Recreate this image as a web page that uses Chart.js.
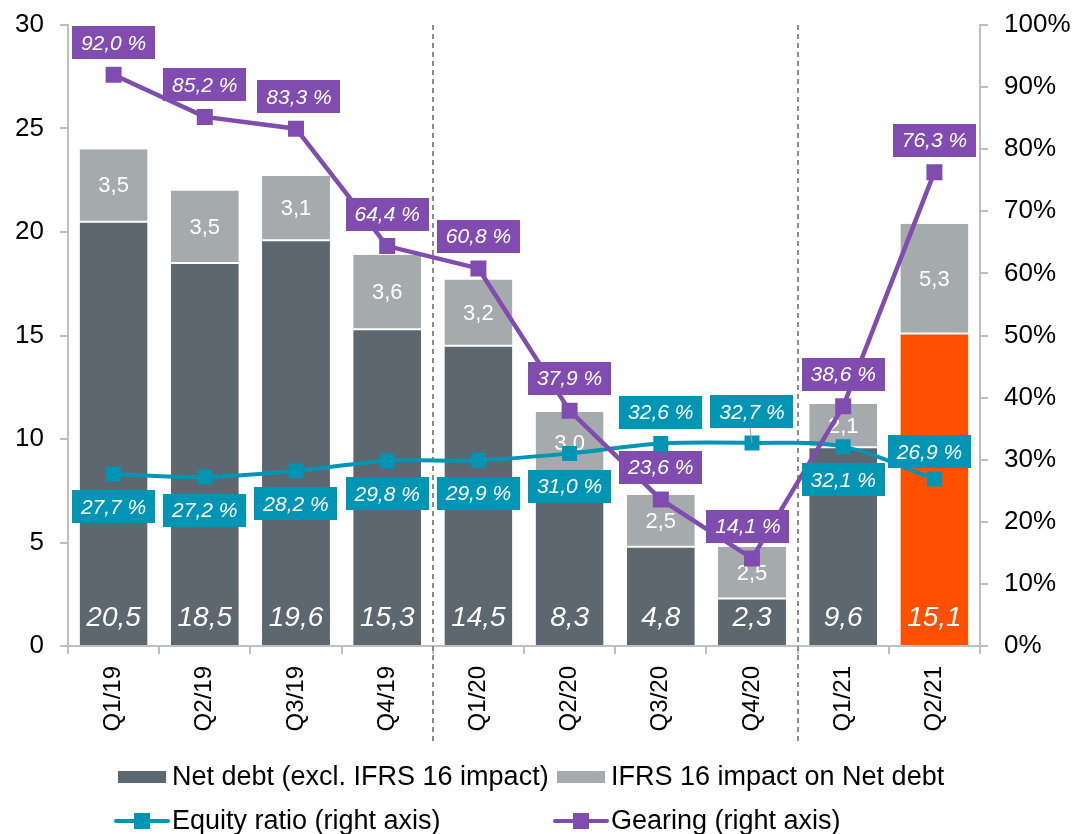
<!DOCTYPE html>
<html>
<head>
<meta charset="utf-8">
<script src="https://cdn.jsdelivr.net/npm/chart.js@4.4.1/dist/chart.umd.min.js"></script>
<style>
  html, body { margin: 0; padding: 0; background: #ffffff; }
  #wrap { width: 1079px; height: 834px; position: relative; }
</style>
</head>
<body>
<div id="wrap"><canvas id="c"></canvas></div>
<script>
// ---- Data ----
const categories = ['Q1/19', 'Q2/19', 'Q3/19', 'Q4/19', 'Q1/20', 'Q2/20', 'Q3/20', 'Q4/20', 'Q1/21', 'Q2/21'];
const netDebt = [20.5, 18.5, 19.6, 15.3, 14.5, 8.3, 4.8, 2.3, 9.6, 15.1];
const ifrs16Impact = [3.5, 3.5, 3.1, 3.6, 3.2, 3.0, 2.5, 2.5, 2.1, 5.3];
const equityRatio = [27.7, 27.2, 28.2, 29.8, 29.9, 31.0, 32.6, 32.7, 32.1, 26.9];
const gearing = [92.0, 85.2, 83.3, 64.4, 60.8, 37.9, 23.6, 14.1, 38.6, 76.3];
const seriesNames = ['Net debt (excl. IFRS 16 impact)', 'IFRS 16 impact on Net debt', 'Equity ratio (right axis)', 'Gearing (right axis)'];
const yearSeparatorsAfter = [3, 7];
const equityLabelSide = ['below', 'below', 'below', 'below', 'below', 'below', 'above', 'above', 'below', 'above'];

// ---- Styles ----
const FONT = '"Liberation Sans", Arial, sans-serif';
const C_DARK = '#5C6770';
const C_GREY = '#A5AAAD';
const C_ORANGE = '#FF5000';
const C_TEAL = '#0095B4';
const C_PURPLE = '#814CAF';
const C_AXIS = '#BFBFBF';

const fmt = v => v.toFixed(1).replace('.', ',');

const labelPlugin = {
  id: 'customLabels',
  beforeDatasetsDraw(chart) {
    const ctx = chart.ctx;
    const x = chart.scales.x;
    const ca = chart.chartArea;
    ctx.save();
    ctx.strokeStyle = '#8C8C8C';
    ctx.lineWidth = 2;
    ctx.setLineDash([5, 4]);
    yearSeparatorsAfter.forEach(i => {
      const px = Math.round((x.getPixelForValue(i) + x.getPixelForValue(i + 1)) / 2);
      ctx.beginPath();
      ctx.moveTo(px, ca.top);
      ctx.lineTo(px, ca.bottom + 96);
      ctx.stroke();
    });
    ctx.restore();
  },
  beforeDatasetDraw(chart, args) {
    if (args.index !== 2) return;
    // bar value labels (drawn after bars, before lines)
    const ctx = chart.ctx;
    const m0 = chart.getDatasetMeta(0);
    const m1 = chart.getDatasetMeta(1);
    ctx.save();
    ctx.fillStyle = '#ffffff';
    ctx.textAlign = 'center';
    ctx.textBaseline = 'middle';
    m0.data.forEach((bar, i) => {
      ctx.font = 'italic 28px ' + FONT;
      ctx.fillText(fmt(netDebt[i]), bar.x, bar.base - 27);
    });
    m1.data.forEach((bar, i) => {
      ctx.font = '22px ' + FONT;
      ctx.fillText(fmt(ifrs16Impact[i]), bar.x, (bar.y + bar.base) / 2 + 1);
    });
    ctx.restore();
  },
  afterDatasetsDraw(chart) {
    const ctx = chart.ctx;
    const drawBox = (text, cx, cy, color) => {
      ctx.font = 'italic 21px ' + FONT;
      const w = ctx.measureText(text).width + 18;
      const h = 33;
      ctx.fillStyle = color;
      ctx.fillRect(Math.round(cx - w / 2), Math.round(cy - h / 2), Math.round(w), h);
      ctx.fillStyle = '#ffffff';
      ctx.textAlign = 'center';
      ctx.textBaseline = 'middle';
      ctx.fillText(text, cx, cy + 1);
    };
    ctx.save();
    const mE = chart.getDatasetMeta(2);
    mE.data.forEach((pt, i) => {
      const side = equityLabelSide[i];
      let dx = 0, dy = side === 'above' ? -31 : 33;
      if (i === equityRatio.length - 1) { dx = -5; dy = -27; }
      if (i === 7) {
        ctx.strokeStyle = '#A0A0A0';
        ctx.lineWidth = 1;
        ctx.beginPath();
        ctx.moveTo(pt.x - 2, pt.y + dy + 16);
        ctx.lineTo(pt.x, pt.y);
        ctx.stroke();
      }
      drawBox(fmt(equityRatio[i]) + ' %', pt.x + dx, pt.y + dy, C_TEAL);
    });
    const mG = chart.getDatasetMeta(3);
    mG.data.forEach((pt, i) => {
      let dx = 0;
      if (i === 7) dx = -4;
      if (i === 2) dx = 3;
      drawBox(fmt(gearing[i]) + ' %', pt.x + dx, pt.y - 32, C_PURPLE);
    });
    ctx.restore();
  },
  afterDraw(chart) {
    // legend in a two-column grid
    const ctx = chart.ctx;
    ctx.save();
    ctx.font = '27px ' + FONT;
    ctx.fillStyle = '#000000';
    ctx.textBaseline = 'middle';
    ctx.textAlign = 'left';
    const cols = [116, 555];
    const rows = [777, 821];
    // row 1: bar swatches
    [C_DARK, C_GREY].forEach((c, k) => {
      ctx.fillStyle = c;
      ctx.fillRect(cols[k] + 2, rows[0] - 6, 48, 12);
      ctx.fillStyle = '#000000';
      ctx.fillText(seriesNames[k], cols[k] + 56, rows[0] + 1);
    });
    // row 2: line swatches
    [C_TEAL, C_PURPLE].forEach((c, k) => {
      ctx.strokeStyle = c;
      ctx.lineWidth = 4;
      ctx.lineCap = 'round';
      ctx.beginPath();
      ctx.moveTo(cols[k], rows[1]);
      ctx.lineTo(cols[k] + 52, rows[1]);
      ctx.stroke();
      ctx.fillStyle = c;
      ctx.fillRect(cols[k] + 18, rows[1] - 8, 16, 16);
      ctx.fillStyle = '#000000';
      ctx.fillText(seriesNames[2 + k], cols[k] + 56, rows[1] + 1);
    });
    ctx.restore();
  }
};

new Chart(document.getElementById('c'), {
  type: 'bar',
  data: {
    labels: categories,
    datasets: [
      {
        label: seriesNames[0], type: 'bar', data: netDebt, yAxisID: 'y', stack: 'debt', order: 2,
        backgroundColor: netDebt.map((v, i) => i === netDebt.length - 1 ? C_ORANGE : C_DARK),
        borderColor: '#ffffff', borderWidth: { top: 1, left: 0, right: 0, bottom: 0 }, borderSkipped: false,
        categoryPercentage: 1, barPercentage: 0.745
      },
      {
        label: seriesNames[1], type: 'bar', data: ifrs16Impact, yAxisID: 'y', stack: 'debt', order: 3,
        backgroundColor: C_GREY,
        borderColor: '#ffffff', borderWidth: { top: 0, left: 0, right: 0, bottom: 1 }, borderSkipped: false,
        categoryPercentage: 1, barPercentage: 0.745
      },
      {
        label: seriesNames[2], type: 'line', data: equityRatio, yAxisID: 'y1', order: 1,
        borderColor: C_TEAL, backgroundColor: C_TEAL, borderWidth: 4, tension: 0.35,
        pointStyle: 'rect', pointRadius: 10.6, pointBorderWidth: 0, fill: false
      },
      {
        label: seriesNames[3], type: 'line', data: gearing, yAxisID: 'y1', order: 0,
        borderColor: C_PURPLE, backgroundColor: C_PURPLE, borderWidth: 4.5, tension: 0,
        pointStyle: 'rect', pointRadius: 11.3, pointBorderWidth: 0, fill: false
      }
    ]
  },
  options: {
    responsive: true,
    maintainAspectRatio: false,
    animation: false,
    layout: { padding: { top: 25, bottom: 88, left: 0, right: 0 } },
    plugins: { legend: { display: false }, tooltip: { enabled: false } },
    scales: {
      x: {
        stacked: true,
        offset: true,
        grid: { display: true, drawOnChartArea: false, drawTicks: true, tickLength: 8, color: C_AXIS, lineWidth: 2, offset: true },
        border: { display: true, color: C_AXIS, width: 2 },
        ticks: { color: '#000', font: { family: FONT, size: 24 }, minRotation: 90, maxRotation: 90, autoSkip: false, padding: 12 },
        afterFit(s) { s.height = 100; s.paddingLeft = 0; s.paddingRight = 0; }
      },
      y: {
        position: 'left', stacked: true, min: 0, max: 30,
        grid: { display: true, drawOnChartArea: false, drawTicks: true, tickLength: 8, color: C_AXIS, lineWidth: 2 },
        border: { display: true, color: C_AXIS, width: 2 },
        ticks: { stepSize: 5, color: '#000', font: { family: FONT, size: 26 }, padding: 16 },
        afterFit(s) { s.width = 68; s.paddingTop = 0; s.paddingBottom = 0; }
      },
      y1: {
        position: 'right', stacked: false, min: 0, max: 100,
        grid: { display: true, drawOnChartArea: false, drawTicks: true, tickLength: 8, color: C_AXIS, lineWidth: 2 },
        border: { display: true, color: C_AXIS, width: 2 },
        ticks: { stepSize: 10, color: '#000', font: { family: FONT, size: 26 }, padding: 16, callback: v => v + '%' },
        afterFit(s) { s.width = 99; s.paddingTop = 0; s.paddingBottom = 0; }
      }
    }
  },
  plugins: [labelPlugin]
});
</script>
</body>
</html>
